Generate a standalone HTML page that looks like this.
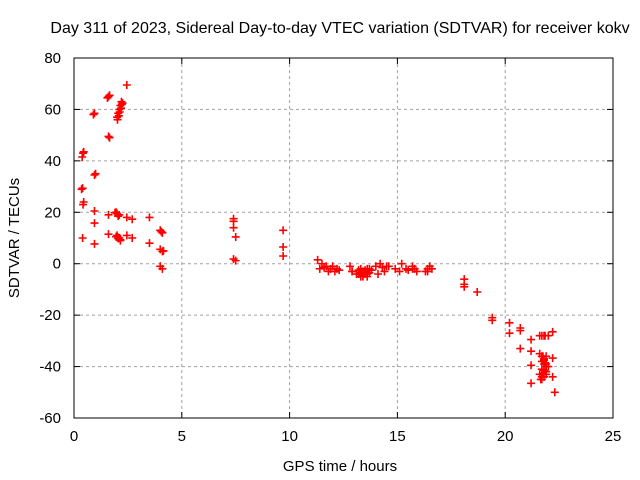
<!DOCTYPE html>
<html><head><meta charset="utf-8"><style>
body{margin:0;background:#fff;}
svg{display:block;font-family:"Liberation Sans",sans-serif;}
</style></head><body>
<svg id="chart" width="640" height="480">
<text x="340" y="33" font-size="16" text-anchor="middle" fill="#000">Day 311 of 2023, Sidereal Day-to-day VTEC variation (SDTVAR) for receiver kokv</text>
<text x="340" y="471" font-size="15" text-anchor="middle">GPS time / hours</text>
<text transform="translate(19,238) rotate(-90)" font-size="15" text-anchor="middle">SDTVAR / TECUs</text>
<g id="grid"></g><g id="axes"></g><g id="marks"></g>
<rect x="74" y="58" width="539" height="360" fill="none" stroke="#000" stroke-width="1"/>
</svg>
<script>
const xTicks=[0,5,10,15,20,25];
const yTicks=[-60,-40,-20,0,20,40,60,80];
const hours=[0.42,0.38,0.4,0.42,0.4,0.95,0.95,0.95,0.95,0.95,1.6,1.6,1.6,1.6,2.0,2.05,2.1,2.15,2.2,2.25,1.95,2.0,2.05,2.45,1.95,2.05,2.15,2.0,2.05,2.15,2.45,2.7,2.45,2.7,3.5,3.5,4.0,4.1,4.0,4.1,4.0,4.1,7.4,7.4,7.4,7.5,7.4,7.5,9.7,9.7,9.7,11.3,11.5,11.7,11.9,12.1,12.3,12.8,12.9,13.1,13.3,13.4,13.5,13.6,13.7,14.0,14.2,14.4,14.6,14.9,15.2,15.4,15.7,15.9,16.4,16.5,11.4,11.8,12.0,12.9,13.2,13.6,14.1,14.5,15.1,15.7,16.3,18.1,18.1,18.7,19.4,20.2,20.2,20.7,20.7,21.2,21.2,21.2,21.2,21.85,22.2,22.2,22.2,22.3,21.6,21.7,21.8,21.9,21.7,21.6,21.7,21.8,21.9,22.0,21.8,21.7,21.6,
0.45,0.45,0.35,0.9,1.0,1.55,1.65,1.65,2.02,2.08,2.12,2.18,2.22,1.9,2.1,2.1,4.05,4.15,13.2,13.3,13.4,13.5,13.3,13.4,13.5,13.6,13.2,13.7,13.8,14.3,15.5,15.8,16.4,16.6,11.6,12.2,21.75,21.8,21.85,21.9,21.8,21.75,21.7,21.65,21.9,22.0,21.7,21.8,21.9,19.4,18.1,20.7];
const values=[43,41.5,29.4,23,10,58.5,34.5,20.5,15.8,7.7,65,49.5,19,11.5,57,58.5,60,61.5,63,62.5,20,19.5,18.5,69.5,10.5,9.8,9.3,11,10.2,9,18,17.3,11,10,18,8,13,12,5.6,4.8,-1,-2,17.5,16.5,14,10.4,1.8,1.2,13,6.5,3,1.5,0,-1,-2,-3,-2.5,-1,-3,-4,-2,-5,-3,-4,-2,-1,0,-3,-1,-2,0,-2,-1,-3,-2,-1,-2,-3,-1,-3,-4,-2,-4,-1,-3,-2,-3,-6,-9,-11,-21,-23,-27,-26,-33,-29.5,-34,-39.5,-46.5,-28,-26.5,-36.7,-44,-50,-35,-36,-37,-39,-41,-43,-45,-44,-42,-40,-28,-28,-28,
43.5,24,29,58,35,64.5,65.5,49,56,57.5,59,60.5,62,19.8,19,10,12.5,5,-2.5,-3.5,-4.5,-2.5,-5,-3,-4,-5,-4,-3.5,-2.5,-1.5,-2.5,-2,-3,-2,-1.5,-2,-36,-37.5,-38.5,-40,-41.5,-42.5,-44,-45,-43,-28,-38,-39,-36,-22,-8,-25];
const X0=74,X1=613,Y0=418,Y1=58,XMAX=25,YMIN=-60,YMAX=80;
const sx=v=>X0+(v/XMAX)*(X1-X0);
const sy=v=>Y0-(v-YMIN)/(YMAX-YMIN)*(Y0-Y1);
const NS='http://www.w3.org/2000/svg';
const grid=document.getElementById('grid'),axes=document.getElementById('axes'),marks=document.getElementById('marks');
function mk(t,a,p){const e=document.createElementNS(NS,t);for(const k in a)e.setAttribute(k,a[k]);p.appendChild(e);return e;}
xTicks.forEach(t=>{const x=sx(t);
 if(t>0&&t<XMAX){const g=mk('line',{x1:x,x2:x,y1:Y1,y2:Y0,stroke:'#a0a0a0','stroke-dasharray':'3,3'},grid);
 
 }
 const l=mk('text',{x:x,y:Y0+23,'font-size':15,'text-anchor':'middle'},axes);l.textContent=t;
 
 
 mk('line',{x1:x,x2:x,y1:Y0,y2:Y0-6,stroke:'#000'},axes);mk('line',{x1:x,x2:x,y1:Y1,y2:Y1+6,stroke:'#000'},axes);});
yTicks.forEach(t=>{const y=sy(t);
 if(t>YMIN&&t<YMAX){const g=mk('line',{x1:X0,x2:X1,y1:y,y2:y,stroke:'#a0a0a0','stroke-dasharray':'3,3'},grid);
 
 }
 const l=mk('text',{x:X0-13,y:y+5,'font-size':15,'text-anchor':'end'},axes);l.textContent=t;
 
 
 mk('line',{x1:X0,x2:X0+6,y1:y,y2:y,stroke:'#000'},axes);mk('line',{x1:X1,x2:X1-6,y1:y,y2:y,stroke:'#000'},axes);});
hours.forEach((h,i)=>{const x=sx(h),y=sy(values[i]);
 const p=mk('path',{d:`M${x-4},${y}H${x+4}M${x},${y-4}V${y+4}`,stroke:'#ff0000','stroke-width':1.6,fill:'none'},marks);
 
 });
</script>
</body></html>
